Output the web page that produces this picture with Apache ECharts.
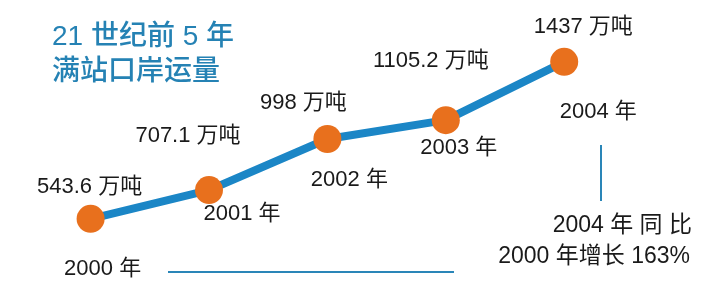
<!DOCTYPE html>
<html>
<head>
<meta charset="utf-8">
<script src="https://cdn.jsdelivr.net/npm/echarts@6/dist/echarts.min.js"></script>
<style>
  html, body { margin: 0; padding: 0; background: #ffffff; }
  #chart { width: 721px; height: 303px; }
</style>
</head>
<body>
<div id="chart"></div>
<script>
// ---- data ----
var years = ['2000', '2001', '2002', '2003', '2004'];
var volumes = [543.6, 707.1, 998, 1105.2, 1437];          // 万吨
var titleLines = ['21 世纪前 5 年', '满站口岸运量'];
var noteLines = ['2004 年 同 比', '2000 年增长 163%'];

// ---- label placement (style, not data) ----
var valueLabelOffsets = [[-1, -32], [-21, -54], [-24, -36], [-15, -59], [19, -35]];
var yearLabelOffsets = [[12, 50], [33, 24], [22, 41], [13, 28], [34, 50]];

var FONT = '"Liberation Sans", "Noto Sans CJK SC", sans-serif';
var TXT = '#1a1a1a';

var chart = echarts.init(document.getElementById('chart'), null, { renderer: 'canvas' });

var valueData = volumes.map(function (v, i) {
  return { value: v, label: { offset: valueLabelOffsets[i] } };
});
var yearData = volumes.map(function (v, i) {
  return { value: v, label: { offset: yearLabelOffsets[i] } };
});

chart.setOption({
  backgroundColor: '#ffffff',
  animation: false,
  grid: { left: 90.6, right: 156.8, top: 50.8, bottom: 23.8 },
  xAxis: {
    type: 'category', data: years, boundaryGap: false, show: false
  },
  yAxis: {
    type: 'value', min: 200, max: 1500, show: false
  },
  series: [
    {
      type: 'scatter',
      data: yearData,
      symbolSize: 1,
      itemStyle: { color: 'rgba(0,0,0,0)', opacity: 1 },
      silent: true,
      z: 1,
      label: {
        show: true, position: 'inside',
        formatter: '{b} 年',
        color: TXT, fontSize: 22, fontFamily: FONT
      }
    },
    {
      type: 'line',
      data: valueData,
      symbol: 'circle',
      symbolSize: 28,
      lineStyle: { color: '#1b86c6', width: 8 },
      itemStyle: { color: '#e8701d' },
      z: 3,
      label: {
        show: true, position: 'inside',
        formatter: '{c} 万吨',
        color: TXT, fontSize: 22, fontFamily: FONT
      }
    }
  ],
  graphic: [
    {
      type: 'text', left: 52, top: 23,
      style: { text: titleLines[0], fill: '#2582b4', font: '500 28px "Liberation Sans", "Noto Sans CJK SC", sans-serif' }
    },
    {
      type: 'text', left: 52, top: 55,
      style: { text: titleLines[1], fill: '#2582b4', font: '500 28px "Noto Sans CJK SC", sans-serif' }
    },
    {
      type: 'line', shape: { x1: 601, y1: 145, x2: 601, y2: 201 },
      style: { stroke: '#2a86b8', lineWidth: 2 }
    },
    {
      type: 'line', shape: { x1: 168, y1: 272, x2: 454, y2: 272 },
      style: { stroke: '#2a86b8', lineWidth: 2 }
    },
    {
      type: 'text', right: 29, top: 214,
      style: { text: noteLines[0], fill: TXT, font: 'normal 23px ' + FONT, textAlign: 'right' }
    },
    {
      type: 'text', right: 31, top: 245,
      style: { text: noteLines[1], fill: TXT, font: 'normal 23px ' + FONT, textAlign: 'right' }
    }
  ]
});
</script>
</body>
</html>
